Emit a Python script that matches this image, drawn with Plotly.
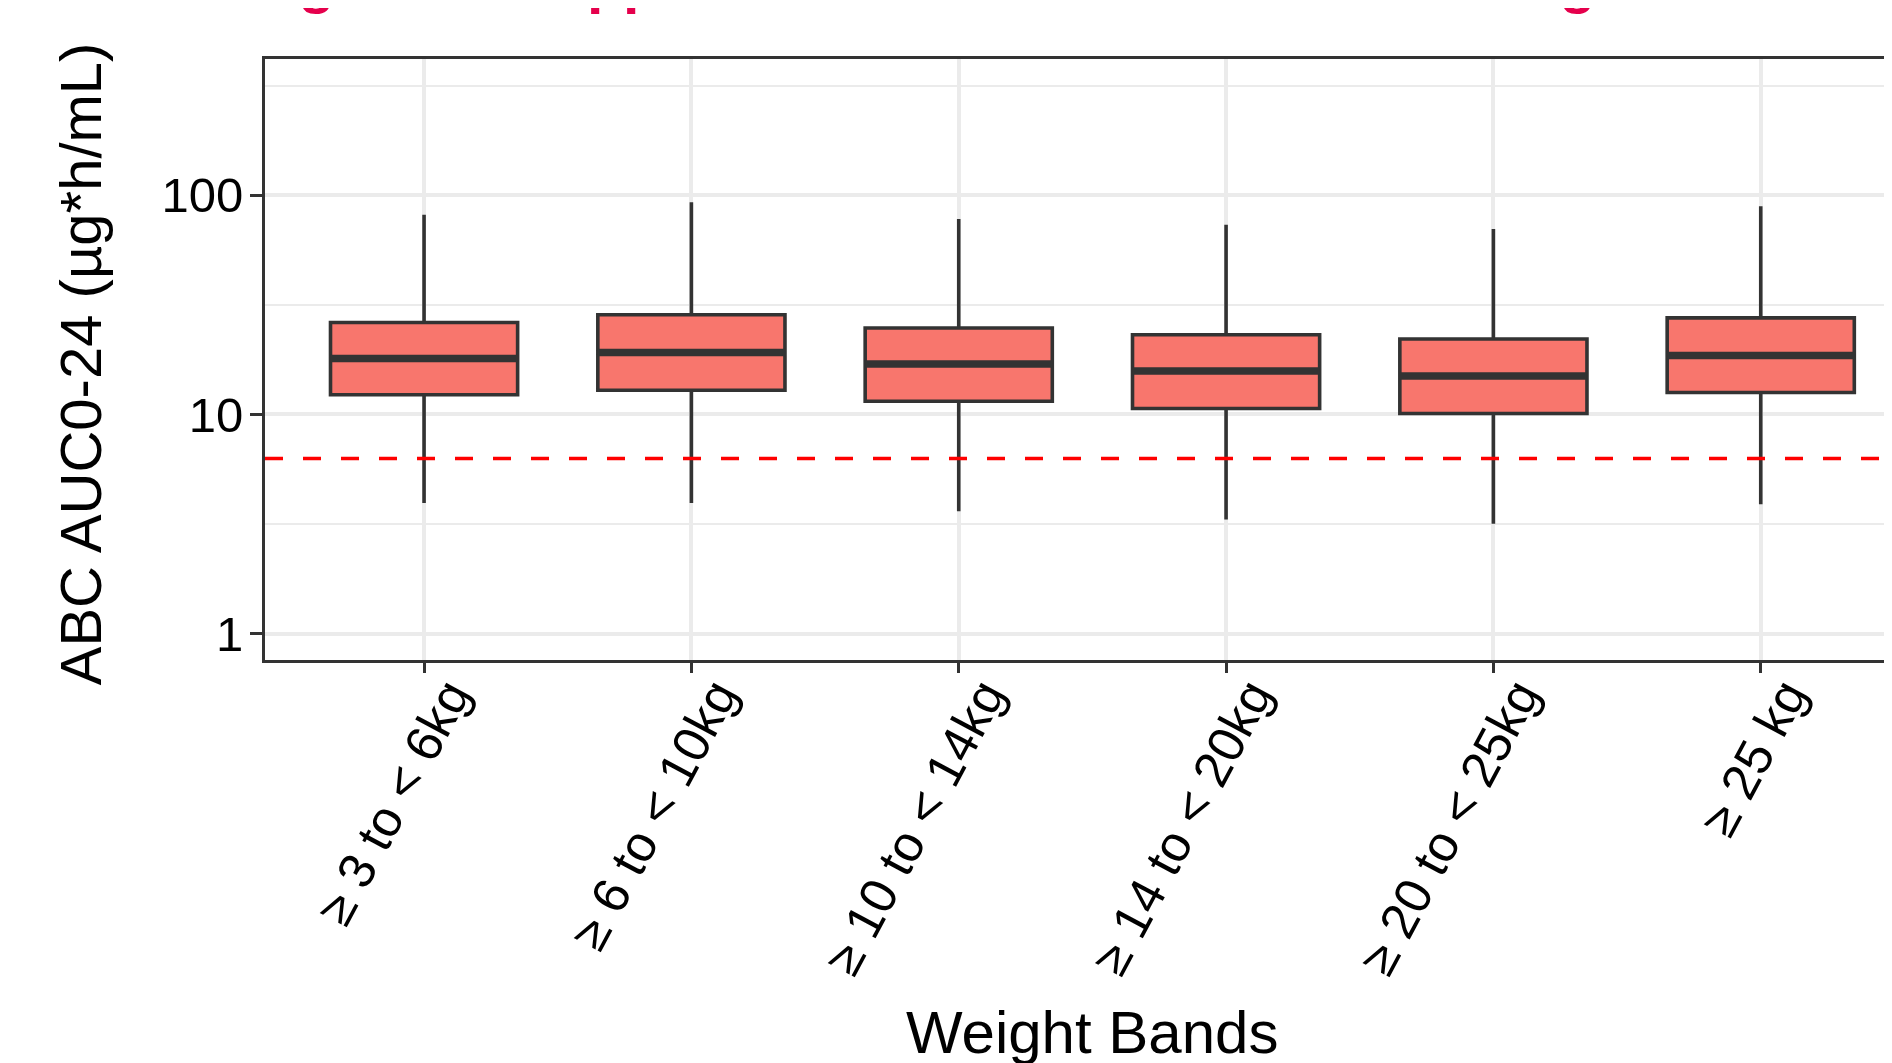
import plotly.graph_objects as go

# ---------------- data ----------------
CATEGORIES = ["≥ 3 to < 6kg", "≥ 6 to < 10kg", "≥ 10 to < 14kg",
              "≥ 14 to < 20kg", "≥ 20 to < 25kg", "≥ 25 kg"]
WHISKER_LOW = [3.95, 3.95, 3.62, 3.32, 3.17, 3.89]
Q1 = [12.3, 12.9, 11.5, 10.65, 10.1, 12.6]
MEDIAN = [18.0, 19.2, 17.0, 15.8, 15.0, 18.6]
Q3 = [26.3, 28.5, 24.8, 23.1, 22.1, 27.6]
WHISKER_HIGH = [81.6, 92.9, 78.0, 73.5, 70.2, 89.1]
TARGET = 6.3

Y_TICKS = [1, 10, 100]
Y_TICK_LABELS = ["1", "10", "100"]
Y_MINOR = [3.1623, 31.623, 316.23]

TITLE = "Figure 3: Support for ABC Dose Across All Weight Bands"
X_TITLE = "Weight Bands"
Y_TITLE = "ABC AUC0-24 (µg*h/mL)"

# ---------------- style ----------------
FILL = "#F8766D"
EDGE = "#333333"
GRID = "#EBEBEB"
FONT = "Liberation Sans, Arial, Helvetica, sans-serif"
BOX_W = 0.7

BODY = 8                      # default page margin of the html body
W, H = 1892 - BODY, 1063 - BODY
ML, MR, MT = 265.35 - BODY, 0, 59.35 - BODY
PH = 601.0
MB = H - MT - PH
PW = W - ML - MR


def px_x(xp):
    """page pixel x -> paper x"""
    return (xp - BODY - ML) / PW


def px_y(yp):
    """page pixel y -> paper y"""
    return (MT + PH - (yp - BODY)) / PH


fig = go.Figure()
fig.add_trace(go.Box(
    x=CATEGORIES, q1=Q1, median=MEDIAN, q3=Q3,
    lowerfence=WHISKER_LOW, upperfence=WHISKER_HIGH,
    width=BOX_W, fillcolor=FILL, line=dict(color=EDGE, width=3.6),
    whiskerwidth=0, boxpoints=False, showlegend=False,
))

# thick median bars (ggplot style)
for i, m in enumerate(MEDIAN):
    fig.add_shape(type="line", xref="x", yref="y",
                  x0=i - BOX_W / 2, x1=i + BOX_W / 2, y0=m, y1=m,
                  line=dict(color=EDGE, width=7.5), layer="above")

# dashed target line
fig.add_shape(type="line", xref="paper", yref="y", x0=0, x1=1,
              y0=TARGET, y1=TARGET,
              line=dict(color="#FF0000", width=3.5, dash="18px,20px"),
              layer="above")

fig.update_layout(
    width=W, height=H,
    margin=dict(l=ML, r=MR, t=MT, b=MB, pad=0),
    plot_bgcolor="white", paper_bgcolor="white",
    font=dict(family=FONT, color="black"),
    showlegend=False,
)

fig.update_xaxes(
    type="category", range=[-0.595, 5.491],
    showgrid=True, gridcolor=GRID, gridwidth=3.5,
    showline=True, linecolor=EDGE, linewidth=2.7, mirror=True,
    ticks="outside", ticklen=10, tickwidth=2.7, tickcolor=EDGE,
    tickangle=-62, tickfont=dict(size=51, color="black"),
    ticklabelshift=25, ticklabelstandoff=-28, zeroline=False,
)
fig.update_yaxes(
    type="log", range=[-0.1202, 2.622],
    tickmode="array", tickvals=Y_TICKS, ticktext=Y_TICK_LABELS,
    showgrid=True, gridcolor=GRID, gridwidth=3.5,
    minor=dict(tickmode="array", tickvals=Y_MINOR, showgrid=True,
               gridcolor=GRID, gridwidth=2.2, ticklen=0),
    showline=True, linecolor=EDGE, linewidth=2.7,
    ticks="outside", ticklen=12, tickwidth=2.7, tickcolor=EDGE,
    tickfont=dict(size=49, color="black"),
    ticklabelstandoff=-3, zeroline=False,
)

# titles as annotations for exact placement
fig.add_annotation(text=Y_TITLE, xref="paper", yref="paper",
                   x=px_x(81), y=px_y(364),
                   xanchor="center", yanchor="middle", textangle=-90,
                   showarrow=False, font=dict(size=58, color="black", family=FONT))
fig.add_annotation(text=X_TITLE, xref="paper", yref="paper",
                   x=px_x(1092), y=px_y(1068),
                   xanchor="center", yanchor="bottom",
                   showarrow=False, font=dict(size=60, color="black", family=FONT))
fig.add_annotation(text="<b>" + TITLE + "</b>", xref="paper", yref="paper",
                   x=px_x(244), y=px_y(17),
                   xanchor="left", yanchor="bottom",
                   showarrow=False, font=dict(size=59, color="#E5004C", family=FONT))

fig.write_html("out.html", config={"displayModeBar": False})
